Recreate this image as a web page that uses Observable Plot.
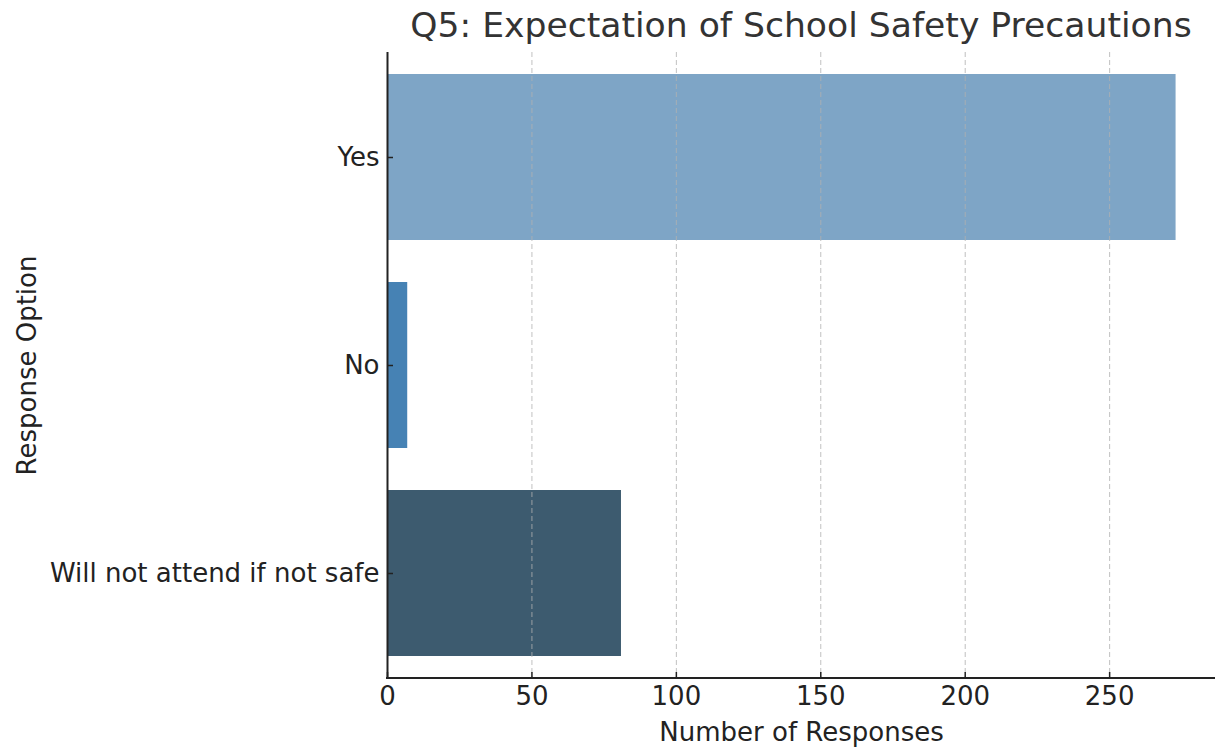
<!DOCTYPE html>
<html><head><meta charset="utf-8">
<script src="https://cdn.jsdelivr.net/npm/d3@7"></script>
<script src="https://cdn.jsdelivr.net/npm/@observablehq/plot@0.6"></script>
<style>
body{margin:0;background:#fff;font-family:"DejaVu Sans",sans-serif;}
#title{margin-left:387px;width:828px;height:46px;text-align:center;font-size:34.6px;line-height:46px;color:#333;white-space:nowrap;padding-top:2px;box-sizing:border-box;}
#chart svg{display:block;}
</style></head><body>
<div id="title">Q5: Expectation of School Safety Precautions</div>
<div id="chart"></div>
<script>
const options = ["Yes", "No", "Will not attend if not safe"];
const counts = [273, 7, 81];
const barColors = ["#7EA5C6", "#4682B4", "#3D5B6F"];
const xTicks = [0, 50, 100, 150, 200, 250];
const xMax = 286.65;
const xLabel = "Number of Responses";
const yLabel = "Response Option";

const data = options.map((o, i) => ({option: o, count: counts[i]}));
const W = 1215, H = 704, mL = 387, mR = 0, mT = 6, mB = 72;
const frameW = W - mL - mR, frameH = H - mT - mB;

const plot = Plot.plot({
  width: W, height: H,
  marginLeft: mL, marginRight: mR, marginTop: mT, marginBottom: mB,
  style: {fontFamily: "DejaVu Sans", color: "#222", background: "#fff"},
  x: {domain: [0, xMax]},
  y: {domain: options, paddingInner: 0.2, paddingOuter: 0.1},
  color: {domain: options, range: barColors},
  marks: [
    Plot.barX(data, {x: "count", y: "option", fill: "option"}),
    Plot.gridX({ticks: xTicks.slice(1), stroke: "#b0b0b0", strokeOpacity: 0.8, strokeDasharray: "5,3", strokeWidth: 1}),
    Plot.ruleX([0], {stroke: "#222", strokeWidth: 2}),
    Plot.rect([0], {x1: d => 0, x2: d => xMax, insetTop: frameH - 1, insetBottom: -1, insetLeft: -1, fill: "#222"}),
    Plot.tickX(xTicks, {x: d => d, insetTop: frameH - 6, stroke: "#222", strokeWidth: 1.5}),
    Plot.tickY(options, {y: d => d, insetRight: frameW - 6, stroke: "#222", strokeWidth: 1.5}),
    Plot.axisX({ticks: xTicks, tickSize: 0, tickPadding: 8, fontSize: 26, label: null}),
    Plot.axisY({tickSize: 0, tickPadding: 8, fontSize: 26, label: null}),
    Plot.text([xLabel], {text: d => d, frameAnchor: "bottom", dy: 62, fontSize: 26, fill: "#222"}),
    Plot.text([yLabel], {text: d => d, frameAnchor: "left", textAnchor: "middle", dx: -360, rotate: -90, fontSize: 26, fill: "#222"})
  ]
});
document.getElementById("chart").appendChild(plot);
</script>
</body></html>
